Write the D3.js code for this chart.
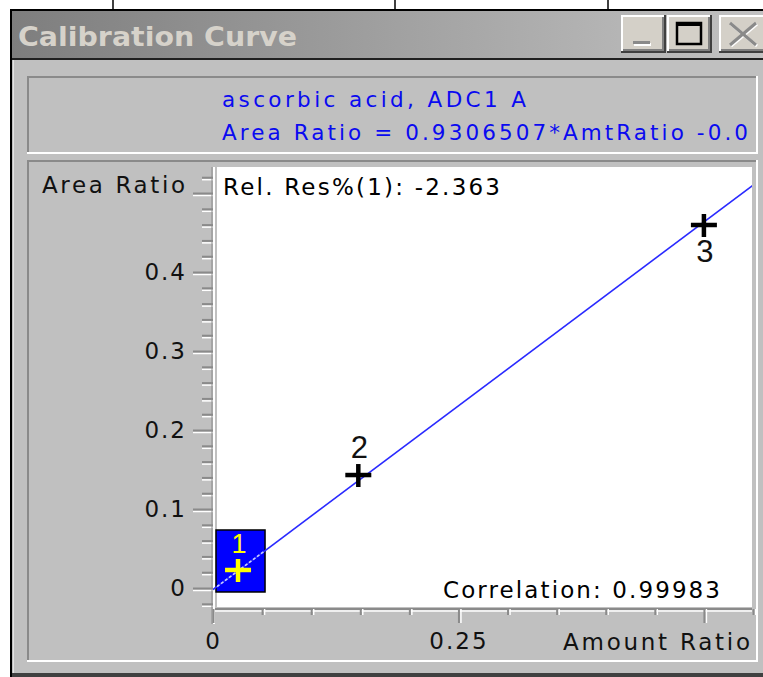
<!DOCTYPE html>
<html><head><meta charset="utf-8">
<script src="https://cdn.jsdelivr.net/npm/d3@7"></script>
<style>html,body{margin:0;padding:0;background:#fff;overflow:hidden}svg{display:block}</style>
</head><body><div id="chart"></div>
<script>
// ---- data ----
const pointIds = ["1", "2", "3"];
const amountRatio = [0.0255, 0.148, 0.500];
const areaRatio = [0.0228, 0.143, 0.4595];
const labelSide = ["above", "above", "below"];
const fitSlope = 0.9306507;
const fitIntercept = -0.002;
const windowTitle = "Calibration Curve";
const compoundName = "ascorbic acid, ADC1 A";
const equationText = "Area Ratio = 0.9306507*AmtRatio -0.0";
const relResText = "Rel. Res%(1): -2.363";
const correlationText = "Correlation: 0.99983";
const yAxisTitle = "Area Ratio";
const xAxisTitle = "Amount Ratio";
const yMajorTicks = [0, 0.1, 0.2, 0.3, 0.4, 0.5];
const yTickLabels = ["0", "0.1", "0.2", "0.3", "0.4", ""];
const yMinorTicks = [-0.02, 0.02, 0.04, 0.06, 0.08, 0.12, 0.14, 0.16, 0.18, 0.22, 0.24, 0.26, 0.28, 0.32, 0.34, 0.36, 0.38, 0.42, 0.44, 0.46, 0.48, 0.52];
const xMajorTicks = [0, 0.25, 0.5];
const xTickLabels = ["0", "0.25", ""];
const xMinorTicks = [0.05, 0.1, 0.15, 0.2, 0.3, 0.35, 0.4, 0.45, 0.55];
const selectedIndex = 0;

// ---- drawing ----
const W = 763, H = 677;
const svg = d3.select("#chart").append("svg").attr("width", W).attr("height", H);
const FONT = "'DejaVu Sans', Verdana, sans-serif";
const defs = svg.append("defs");
const grad = defs.append("linearGradient").attr("id", "tb").attr("x1", "0").attr("x2", "1");
grad.append("stop").attr("offset", "0").attr("stop-color", "#7e7e7e");
grad.append("stop").attr("offset", "1").attr("stop-color", "#c2c2c2");

svg.append("rect").attr("width", W).attr("height", H).attr("fill", "#fff");
[113, 395, 608].forEach(x => svg.append("line").attr("x1", x).attr("x2", x).attr("y1", 0).attr("y2", 10).attr("stroke", "#000").attr("stroke-width", 1.5));

// window frame
svg.append("rect").attr("x", 10).attr("y", 9).attr("width", W - 10).attr("height", H - 9).attr("fill", "#000");
svg.append("rect").attr("x", 12).attr("y", 11).attr("width", W - 12).attr("height", 47).attr("fill", "url(#tb)");
svg.append("rect").attr("x", 12).attr("y", 58).attr("width", W - 12).attr("height", 2).attr("fill", "#202020");
svg.append("rect").attr("x", 12).attr("y", 60).attr("width", W - 12).attr("height", 613).attr("fill", "#c0c0c0");
svg.append("rect").attr("x", 13).attr("y", 60).attr("width", 1).attr("height", 613).attr("fill", "#e4e4e4");
svg.append("rect").attr("x", 12).attr("y", 673).attr("width", W - 12).attr("height", 4).attr("fill", "#404040");

svg.append("text").attr("x", 18).attr("y", 46).attr("font-family", FONT).attr("font-weight", "bold")
  .attr("font-size", 26).attr("fill", "#d6d2ca").attr("textLength", 279).attr("lengthAdjust", "spacingAndGlyphs").text(windowTitle);

function button(x, y, w, h) {
  const g = svg.append("g");
  g.append("rect").attr("x", x).attr("y", y).attr("width", w).attr("height", h).attr("fill", "#404040");
  g.append("rect").attr("x", x).attr("y", y).attr("width", w - 2).attr("height", h - 2).attr("fill", "#fff");
  g.append("rect").attr("x", x + 2).attr("y", y + 2).attr("width", w - 4).attr("height", h - 4).attr("fill", "#808080");
  g.append("rect").attr("x", x + 2).attr("y", y + 2).attr("width", w - 6).attr("height", h - 6).attr("fill", "#d4d0c8");
  return g;
}
const bMin = button(621, 15, 45, 38);
bMin.append("rect").attr("x", 634).attr("y", 43).attr("width", 17).attr("height", 3).attr("fill", "#fff");
bMin.append("rect").attr("x", 633).attr("y", 41).attr("width", 17).attr("height", 3).attr("fill", "#8a8a8a");
const bMax = button(667, 15, 45, 38);
bMax.append("rect").attr("x", 677).attr("y", 23).attr("width", 24).attr("height", 21).attr("fill", "none").attr("stroke", "#000").attr("stroke-width", 2.5);
bMax.append("rect").attr("x", 676).attr("y", 22).attr("width", 26).attr("height", 4).attr("fill", "#000");
const bClose = button(719, 15, 52, 38);
[[1, "#fff"], [0, "#8a8a8a"]].forEach(([o, c]) => {
  bClose.append("line").attr("x1", 730 + o).attr("y1", 23 + o).attr("x2", 756 + o).attr("y2", 45 + o).attr("stroke", c).attr("stroke-width", 3);
  bClose.append("line").attr("x1", 756 + o).attr("y1", 23 + o).attr("x2", 730 + o).attr("y2", 45 + o).attr("stroke", c).attr("stroke-width", 3);
});

// sunken panels
function panel(x, y, w, h) {
  svg.append("rect").attr("x", x).attr("y", y).attr("width", w).attr("height", h).attr("fill", "#fff");
  svg.append("rect").attr("x", x).attr("y", y).attr("width", w - 2).attr("height", h - 2).attr("fill", "#8a8a8a");
  svg.append("rect").attr("x", x + 2).attr("y", y + 2).attr("width", w - 4).attr("height", h - 4).attr("fill", "#c0c0c0");
}
panel(27, 76, 731, 78);
panel(27, 160, 731, 502);

// header text
svg.append("text").attr("x", 222).attr("y", 107).attr("font-family", FONT).attr("font-size", 21.5)
  .attr("fill", "#0a0af0").attr("textLength", 304).attr("lengthAdjust", "spacing").text(compoundName);
svg.append("text").attr("x", 222).attr("y", 140).attr("font-family", FONT).attr("font-size", 21.5)
  .attr("fill", "#0a0af0").attr("textLength", 526).attr("lengthAdjust", "spacing").text(equationText);

// scales
const x = d3.scaleLinear().domain([0, 0.55]).range([213, 753]);
const y = d3.scaleLinear().domain([0, 0.5]).range([588, 193]);
const plotL = 217, plotR = 752, plotT = 167, plotB = 607;

svg.append("rect").attr("x", plotL).attr("y", plotT).attr("width", plotR - plotL).attr("height", plotB - plotT).attr("fill", "#fff");
defs.append("clipPath").attr("id", "plotclip").append("rect").attr("x", plotL - 4).attr("y", plotT).attr("width", plotR - plotL + 4).attr("height", plotB - plotT);

function styleAxis(g, color, width) {
  g.select(".domain").remove();
  g.selectAll(".tick line").attr("stroke", color).attr("stroke-width", width);
  g.selectAll(".tick text").attr("font-family", FONT).attr("font-size", 23).attr("fill", "#111").attr("letter-spacing", "2px");
}
// y axis
svg.append("g").attr("transform", "translate(213,2)").call(d3.axisLeft(y).tickValues(yMajorTicks).tickSize(20).tickFormat(() => ""))
  .call(g => styleAxis(g, "#fff", 1.5));
svg.append("g").attr("transform", "translate(213,2)").call(d3.axisLeft(y).tickValues(yMinorTicks).tickSize(11).tickFormat(() => ""))
  .call(g => styleAxis(g, "#fff", 1.5));
svg.append("g").attr("transform", "translate(213,0)").call(d3.axisLeft(y).tickValues(yMajorTicks).tickSize(20).tickPadding(6).tickFormat((d, i) => yTickLabels[i]))
  .call(g => styleAxis(g, "#8a8a8a", 2));
svg.append("g").attr("transform", "translate(213,0)").call(d3.axisLeft(y).tickValues(yMinorTicks).tickSize(11).tickFormat(() => ""))
  .call(g => styleAxis(g, "#8a8a8a", 2));
svg.append("line").attr("x1", 212).attr("x2", 212).attr("y1", plotT).attr("y2", 624).attr("stroke", "#8a8a8a").attr("stroke-width", 1);
svg.append("line").attr("x1", 214).attr("x2", 214).attr("y1", plotT).attr("y2", 624).attr("stroke", "#fff").attr("stroke-width", 2);

// x axis
svg.append("line").attr("x1", 215).attr("x2", plotR).attr("y1", 609).attr("y2", 609).attr("stroke", "#8a8a8a").attr("stroke-width", 2);
svg.append("line").attr("x1", 215).attr("x2", plotR).attr("y1", 611).attr("y2", 611).attr("stroke", "#fff").attr("stroke-width", 1.5);
svg.append("g").attr("transform", "translate(2,609)").call(d3.axisBottom(x).tickValues(xMajorTicks.filter(d => d > 0)).tickSize(14).tickFormat(() => ""))
  .call(g => styleAxis(g, "#fff", 1.5));
svg.append("g").attr("transform", "translate(2,609)").call(d3.axisBottom(x).tickValues(xMinorTicks).tickSize(6).tickFormat(() => ""))
  .call(g => styleAxis(g, "#fff", 1.5));
svg.append("g").attr("transform", "translate(0,609)").call(d3.axisBottom(x).tickValues(xMajorTicks).tickSize(14).tickPadding(10).tickFormat((d, i) => xTickLabels[i]))
  .call(g => styleAxis(g, "#8a8a8a", 2));
svg.append("g").attr("transform", "translate(0,609)").call(d3.axisBottom(x).tickValues(xMinorTicks).tickSize(6).tickFormat(() => ""))
  .call(g => styleAxis(g, "#8a8a8a", 2));

// axis titles
svg.append("text").attr("x", 42).attr("y", 193).attr("font-family", FONT).attr("font-size", 23).attr("fill", "#111")
  .attr("textLength", 143).attr("lengthAdjust", "spacing").text(yAxisTitle);
svg.append("text").attr("x", 563).attr("y", 650).attr("font-family", FONT).attr("font-size", 23).attr("fill", "#111")
  .attr("textLength", 187).attr("lengthAdjust", "spacing").text(xAxisTitle);

// annotations
svg.append("text").attr("x", 223).attr("y", 195).attr("font-family", FONT).attr("font-size", 23).attr("fill", "#000")
  .attr("textLength", 277).attr("lengthAdjust", "spacing").text(relResText);
svg.append("text").attr("x", 443).attr("y", 598).attr("font-family", FONT).attr("font-size", 23).attr("fill", "#000")
  .attr("textLength", 277).attr("lengthAdjust", "spacing").text(correlationText);

// selected point highlight box
const sx = x(amountRatio[selectedIndex]), sy = y(areaRatio[selectedIndex]);
const box = { x: sx - 22, y: sy - 40, w: 49, h: 62 };
svg.append("rect").attr("x", box.x).attr("y", box.y).attr("width", box.w).attr("height", box.h)
  .attr("fill", "#0000ff").attr("stroke", "#000").attr("stroke-width", 1.5);
defs.append("clipPath").attr("id", "boxclip").append("rect").attr("x", box.x + 1).attr("y", box.y + 1).attr("width", box.w - 2).attr("height", box.h - 2);

// regression line
const fitDomain = x.domain();
const fitLine = d3.line().x(d => x(d)).y(d => y(fitSlope * d + fitIntercept));
svg.append("path").datum(fitDomain).attr("d", fitLine).attr("fill", "none").attr("stroke", "#2a2aff").attr("stroke-width", 1.6)
  .attr("clip-path", "url(#plotclip)");
svg.append("path").datum(fitDomain).attr("d", fitLine).attr("fill", "none").attr("stroke", "#c8d0ff").attr("stroke-width", 1.6)
  .attr("stroke-dasharray", "3,2").attr("clip-path", "url(#boxclip)");

// points
const pts = svg.append("g");
pointIds.forEach((id, i) => {
  const px = x(amountRatio[i]), py = y(areaRatio[i]);
  const col = i === selectedIndex ? "#ffff00" : "#000";
  pts.append("line").attr("x1", px - 13).attr("x2", px + 13).attr("y1", py).attr("y2", py).attr("stroke", col).attr("stroke-width", 4.5);
  pts.append("line").attr("x1", px).attr("x2", px).attr("y1", py - 11).attr("y2", py + 12).attr("stroke", col).attr("stroke-width", 4.5);
  pts.append("text").attr("x", px + 1).attr("y", labelSide[i] === "above" ? py - 17 : py + 37)
    .attr("text-anchor", "middle").attr("font-family", "'Liberation Sans Narrow','Liberation Sans',Arial,sans-serif")
    .attr("font-size", i === selectedIndex ? 27 : 31).attr("fill", i === selectedIndex ? "#ffff00" : "#111").text(id);
});
</script>
</body></html>
